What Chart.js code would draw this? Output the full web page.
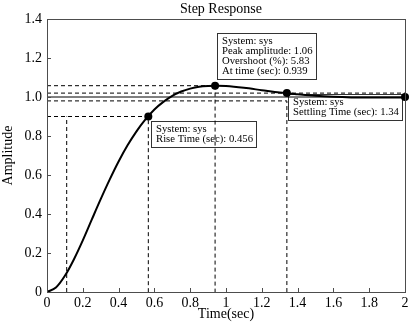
<!DOCTYPE html>
<html><head><meta charset="utf-8">
<script src="https://cdn.jsdelivr.net/npm/chart.js@4/dist/chart.umd.min.js"></script>
<style>html,body{margin:0;padding:0;background:#fff}#wrap{width:409px;height:326px;position:relative}</style>
</head><body><div id="wrap"><canvas id="c"></canvas></div>
<script>
// Step response samples
const timeSec   = [0, 0.05, 0.1, 0.15, 0.2, 0.25, 0.3, 0.35, 0.4, 0.45, 0.5, 0.55, 0.6, 0.65, 0.7, 0.75, 0.8, 0.85, 0.9, 0.95, 1.0, 1.1, 1.2, 1.3, 1.4, 1.5, 1.6, 1.7, 1.8, 1.9, 2.0];
const amplitude = [0, 0.023, 0.083, 0.167, 0.265, 0.371, 0.476, 0.576, 0.669, 0.752, 0.824, 0.885, 0.936, 0.975, 1.006, 1.028, 1.043, 1.053, 1.057, 1.058, 1.056, 1.047, 1.035, 1.023, 1.014, 1.006, 1.001, 0.998, 0.997, 0.997, 0.997];
const xTicks = [0, 0.2, 0.4, 0.6, 0.8, 1, 1.2, 1.4, 1.6, 1.8, 2];
const yTicks = [0, 0.2, 0.4, 0.6, 0.8, 1.0, 1.2, 1.4];

// Characteristics
const riseLevel = 0.9, riseStart = 0.11, riseEnd = 0.566;
const peakTime = 0.939, peakAmp = 1.058;
const settleTime = 1.34, settleAmp = 1.02, bandHi = 1.02, bandLo = 0.98;
const finalTime = 2, finalValue = 1.0;

const riseText   = ['System: sys', 'Rise Time (sec): 0.456'];
const peakText   = ['System: sys', 'Peak amplitude: 1.06', 'Overshoot (%): 5.83', 'At time (sec): 0.939'];
const settleText = ['System: sys', 'Settling Time (sec): 1.34'];

const FONT = "'Liberation Serif', 'Times New Roman', serif";
const curve = timeSec.map((t, i) => ({x: t, y: amplitude[i]}));

function refLine(points, dashed) {
  return {type: 'line', data: points, borderColor: '#000', borderWidth: 1,
    borderDash: dashed ? [4, 3] : [], pointRadius: 0, tension: 0, fill: false};
}

const datasets = [
  refLine([{x: 0, y: finalValue}, {x: finalTime, y: finalValue}], false),
  refLine([{x: 0, y: bandHi}, {x: finalTime, y: bandHi}], true),
  refLine([{x: 0, y: bandLo}, {x: settleTime, y: bandLo}, {x: settleTime, y: 0}], true),
  refLine([{x: 0, y: peakAmp}, {x: peakTime, y: peakAmp}, {x: peakTime, y: 0}], true),
  refLine([{x: 0, y: riseLevel}, {x: riseEnd, y: riseLevel}, {x: riseEnd, y: 0}], true),
  refLine([{x: riseStart, y: 0}, {x: riseStart, y: riseLevel}], true),
  {type: 'line', data: curve, borderColor: '#000', borderWidth: 2, pointRadius: 0,
    cubicInterpolationMode: 'monotone', fill: false},
  {type: 'scatter', data: [{x: riseEnd, y: riseLevel}, {x: peakTime, y: peakAmp}, {x: settleTime, y: settleAmp}, {x: finalTime, y: finalValue}],
    pointRadius: 4, pointBackgroundColor: '#000', pointBorderColor: '#000', borderWidth: 0, clip: false}
];

const framePlugin = {
  id: 'frame',
  beforeDatasetsDraw(chart) {
    const ctx = chart.ctx, xs = chart.scales.x, ys = chart.scales.y;
    const boxes = [
      {lines: riseText, px: xs.getPixelForValue(riseEnd), py: ys.getPixelForValue(riseLevel), dx: 3, dy: 5, anchor: 'tl'},
      {lines: peakText, px: xs.getPixelForValue(peakTime), py: ys.getPixelForValue(peakAmp), dx: 2, dy: -7, anchor: 'bl'},
      {lines: settleText, px: xs.getPixelForValue(settleTime), py: ys.getPixelForValue(settleAmp), dx: 1, dy: 1, anchor: 'tl'}
    ];
    ctx.save();
    ctx.font = '10.7px ' + FONT;
    boxes.forEach(b => {
      const w = Math.round(Math.max(...b.lines.map(l => ctx.measureText(l).width)) + 8.5);
      const h = (b.lines.length - 1) * 10 + 16;
      const left = Math.round(b.px + b.dx) + 0.5;
      const top = Math.round(b.anchor === 'tl' ? b.py + b.dy : b.py + b.dy - h) + 0.5;
      ctx.fillStyle = '#fff';
      ctx.fillRect(left, top, w, h);
      ctx.strokeStyle = '#333';
      ctx.lineWidth = 1;
      ctx.strokeRect(left, top, w, h);
      ctx.fillStyle = '#000';
      ctx.textBaseline = 'middle';
      ctx.textAlign = 'left';
      b.lines.forEach((l, i) => ctx.fillText(l, left + 4.5, top + 8 + i * 10));
    });
    ctx.restore();
  },
  afterDraw(chart) {
    const ctx = chart.ctx, a = chart.chartArea, xs = chart.scales.x, ys = chart.scales.y;
    ctx.save();
    ctx.strokeStyle = '#4d4d4d';
    ctx.lineWidth = 1;
    ctx.strokeRect(Math.round(a.left) + 0.5, Math.round(a.top) + 0.5, Math.round(a.right - a.left), Math.round(a.bottom - a.top));
    ctx.beginPath();
    xTicks.forEach(v => {
      const x = Math.round(xs.getPixelForValue(v)) + 0.5;
      ctx.moveTo(x, a.bottom); ctx.lineTo(x, a.bottom - 4);
    });
    yTicks.forEach(v => {
      const y = Math.round(ys.getPixelForValue(v)) + 0.5;
      ctx.moveTo(a.left, y); ctx.lineTo(a.left + 4, y);
    });
    ctx.stroke();
    ctx.fillStyle = '#000';
    ctx.font = '14px ' + FONT;
    ctx.textAlign = 'center';
    ctx.textBaseline = 'middle';
    ctx.fillText('Step Response', (a.left + a.right) / 2 - 5, 9);
    ctx.restore();
  }
};

new Chart(document.getElementById('c'), {
  type: 'line',
  data: {datasets},
  options: {
    responsive: true, maintainAspectRatio: false, animation: false,
    layout: {autoPadding: false, padding: {top: 19, right: 4, left: 0, bottom: 0}},
    plugins: {legend: {display: false}, tooltip: {enabled: false}, title: {display: false}},
    scales: {
      x: {type: 'linear', min: 0, max: 2,
        afterBuildTicks: s => { s.ticks = xTicks.map(v => ({value: v})); },
        afterFit: s => { s.height = 34; s.paddingLeft = 0; s.paddingRight = 0; },
        grid: {display: false, drawTicks: false}, border: {display: false},
        ticks: {color: '#000', padding: 3, font: {family: FONT, size: 14}, maxRotation: 0,
          callback: v => String(Math.round(v * 10) / 10)},
        title: {display: true, text: 'Time(sec)', color: '#000', font: {family: FONT, size: 14}, padding: {top: 0, bottom: 3.6}}
      },
      y: {type: 'linear', min: 0, max: 1.4,
        afterBuildTicks: s => { s.ticks = yTicks.map(v => ({value: v})); },
        afterFit: s => { s.width = 47; s.paddingTop = 0; s.paddingBottom = 0; },
        grid: {display: false, drawTicks: false}, border: {display: false},
        ticks: {color: '#000', padding: 5, font: {family: FONT, size: 14},
          callback: v => v === 0 ? '0' : v.toFixed(1)},
        title: {display: true, text: 'Amplitude', color: '#000', font: {family: FONT, size: 14}, padding: {top: 0, bottom: 0}}
      }
    }
  },
  plugins: [framePlugin]
});
</script>
</body></html>
